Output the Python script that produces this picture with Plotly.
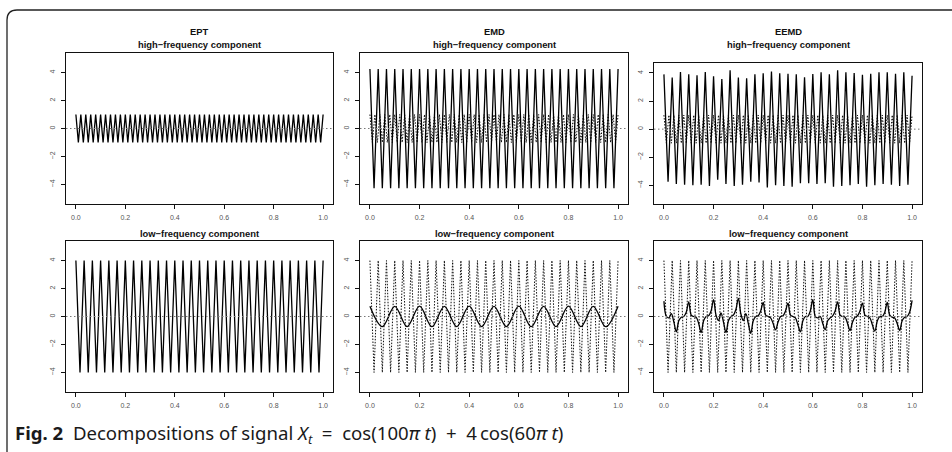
import numpy as np
import plotly.graph_objects as go

W, H = 952, 452

# ---- component values (successive extrema / samples, evenly spaced on t in [0, 1]) ----
# true high-frequency component cos(100*pi*t): 50 cycles between +1 and -1
true_high = [1, -1] * 50 + [1]
# true low-frequency component 4*cos(60*pi*t): 30 cycles between +4 and -4
true_low = [4, -4] * 30 + [4]

# EPT recovers both components exactly
ept_high = true_high
ept_low = true_low

# EMD: first IMF carries the 30-cycle wave, second IMF a slow 10-cycle ripple
emd_high = [4.25, -4.27] * 30 + [4.25]
emd_low = [0.74, -0.72, 0.73, -0.72, 0.74, -0.73, 0.73, -0.72, 0.74, -0.72, 0.73,
           -0.72, 0.74, -0.73, 0.73, -0.72, 0.74, -0.72, 0.73, -0.73, 0.74]

# EEMD: first IMF with uneven peaks
eemd_high = [3.9, -3.75, 3.67, -3.9, 4.07, -3.95, 3.9, -4.0, 3.83, -3.95,
             4.07, -4.05, 3.76, -3.6, 3.57, -3.9, 4.19, -4.05, 3.67, -3.95,
             3.62, -3.75, 3.9, -3.8, 3.98, -4.15, 4.1, -4.0, 3.98, -4.05,
             3.95, -4.1, 3.9, -3.85, 3.7, -3.85, 3.93, -3.9, 4.05, -3.85,
             3.9, -4.1, 4.2, -4.05, 4.05, -4.0, 4.0, -3.9, 3.88, -4.1,
             3.95, -4.0, 4.05, -3.9, 4.05, -3.95, 3.95, -4.05, 4.05, -3.95, 3.8]
# EEMD second IMF, sampled every 0.01
eemd_low = [1.1, 0.0, -0.1, 0.2, -0.4, -1.1, -0.3, -0.05, 0.0, 0.3,
            1.05, 0.1, 0.0, -0.05, -0.5, -1.15, -0.3, 0.0, 0.05, 0.4,
            1.2, 0.1, -0.3, 0.25, -0.4, -1.15, -0.3, 0.0, 0.1, 0.5,
            1.3, 0.2, -0.3, 0.2, -0.5, -1.2, -0.3, 0.0, 0.05, 0.4,
            1.0, 0.1, 0.0, -0.1, -0.5, -0.95, -0.4, 0.0, 0.05, 0.4,
            0.95, 0.1, 0.0, -0.1, -0.6, -1.1, -0.3, 0.0, 0.0, 0.4,
            1.2, 0.0, -0.1, 0.0, -0.5, -0.95, -0.3, -0.1, 0.05, 0.4,
            1.05, 0.1, 0.0, -0.05, -0.5, -1.0, -0.4, -0.05, 0.05, 0.4,
            0.95, 0.1, 0.0, -0.1, -0.6, -1.05, -0.3, 0.0, 0.0, 0.3,
            1.0, 0.1, -0.05, -0.1, -0.5, -1.0, -0.3, -0.05, 0.0, 0.3,
            1.15]

methods = ["EPT", "EMD", "EEMD"]
x_ticks = [0.0, 0.2, 0.4, 0.6, 0.8, 1.0]
x_ticktext = ["0.0", "0.2", "0.4", "0.6", "0.8", "1.0"]
y_ticks = [-4, -2, 0, 2, 4]

# ---- layout geometry (pixels) ----
cols = [(66, 333), (360, 628), (654, 922)]
rows_top = [(53, 204), (53, 204), (63, 204)]
rows_bot = [(241, 392), (241, 392), (241, 392)]


def px(x):
    return x / W


def py(y):
    return 1 - y / H


def tgrid(vals):
    return np.linspace(0.0, 1.0, len(vals))


fig = go.Figure()

AX = dict(showgrid=False, zeroline=False, showline=True, mirror=True,
          linecolor="#111", linewidth=1, ticks="outside", ticklen=4,
          tickwidth=1, tickcolor="#111",
          tickfont=dict(family="Liberation Sans", size=7, color="#555"))

TITLE_FONT = dict(family="Liberation Sans", size=9.4, color="#111")

panels = [
    # (row, col, solid series, dotted reference series)
    (0, 0, ept_high, None),
    (0, 1, emd_high, true_high),
    (0, 2, eemd_high, true_high),
    (1, 0, ept_low, None),
    (1, 1, emd_low, true_low),
    (1, 2, eemd_low, true_low),
]

layout = {}
shapes = []
annotations = []
for i, (r, c, solid, dotted) in enumerate(panels):
    n = i + 1
    xa = "x" if n == 1 else f"x{n}"
    ya = "y" if n == 1 else f"y{n}"
    x0, x1 = cols[c]
    y0, y1 = (rows_top if r == 0 else rows_bot)[c]
    yr = [-5.4, 5.4]
    if r == 0 and c == 2:
        yr = [-5.33, 4.71]
    layout["xaxis" if n == 1 else f"xaxis{n}"] = dict(
        AX, domain=[px(x0), px(x1)], range=[-0.04, 1.04], anchor=ya,
        tickvals=x_ticks, ticktext=x_ticktext, ticklabelstandoff=3)
    layout["yaxis" if n == 1 else f"yaxis{n}"] = dict(
        AX, domain=[py(y1), py(y0)], range=yr, anchor=xa,
        tickvals=y_ticks, tickangle=-90, ticklabelstandoff=3)

    if dotted is not None:
        fig.add_trace(go.Scatter(x=tgrid(dotted), y=dotted, mode="lines",
                                 line=dict(color="#111", width=1, dash="1.5px,1.5px"),
                                 xaxis=xa, yaxis=ya, showlegend=False,
                                 hoverinfo="skip"))
    shape_kind = "spline" if (r == 1 and c > 0) else "linear"
    fig.add_trace(go.Scatter(x=tgrid(solid), y=solid, mode="lines",
                             line=dict(color="#000", width=1.3, shape=shape_kind),
                             xaxis=xa, yaxis=ya, showlegend=False))

    # horizontal reference line at zero
    shapes.append(dict(type="line", xref=f"{xa} domain", yref=ya,
                       x0=0, x1=1, y0=0, y1=0,
                       line=dict(color="#777", width=1, dash="1.5px,2.5px")))

    cx = px((x0 + x1) / 2)
    if r == 0:
        annotations.append(dict(text=f"<b>{methods[c]}</b>", x=cx, y=py(31),
                                xref="paper", yref="paper", showarrow=False,
                                xanchor="center", yanchor="middle", font=TITLE_FONT))
        annotations.append(dict(text="<b>high\u2212frequency component</b>", x=cx, y=py(45),
                                xref="paper", yref="paper", showarrow=False,
                                xanchor="center", yanchor="middle", font=TITLE_FONT))
    else:
        annotations.append(dict(text="<b>low\u2212frequency component</b>", x=cx, y=py(233),
                                xref="paper", yref="paper", showarrow=False,
                                xanchor="center", yanchor="middle", font=TITLE_FONT))

# figure caption
annotations.append(dict(
    text=("<b>Fig. 2</b>&nbsp; Decompositions of signal <i>X</i><sub><i>t</i></sub>"
          "&nbsp; = &nbsp;cos(100<i>\u03c0 t</i>)&nbsp; + &nbsp;4&#8201;cos(60<i>\u03c0 t</i>)"),
    x=px(13), y=py(434), xref="paper", yref="paper", xanchor="left",
    yanchor="middle", showarrow=False,
    font=dict(family="Noto Sans", size=18.6, color="#1a1a1a")))

# rounded page frame (top-left corner)
shapes.append(dict(type="path", xref="paper", yref="paper",
                   path=(f"M {px(7)},{py(460)} L {px(7)},{py(20)} "
                         f"Q {px(7)},{py(10)} {px(17)},{py(10)} L {px(960)},{py(10)}"),
                   line=dict(color="#222", width=1.3)))

fig.update_layout(width=W, height=H, margin=dict(l=0, r=0, t=0, b=0),
                  paper_bgcolor="white", plot_bgcolor="white",
                  shapes=shapes, annotations=annotations, **layout)

fig.write_html("out.html")
